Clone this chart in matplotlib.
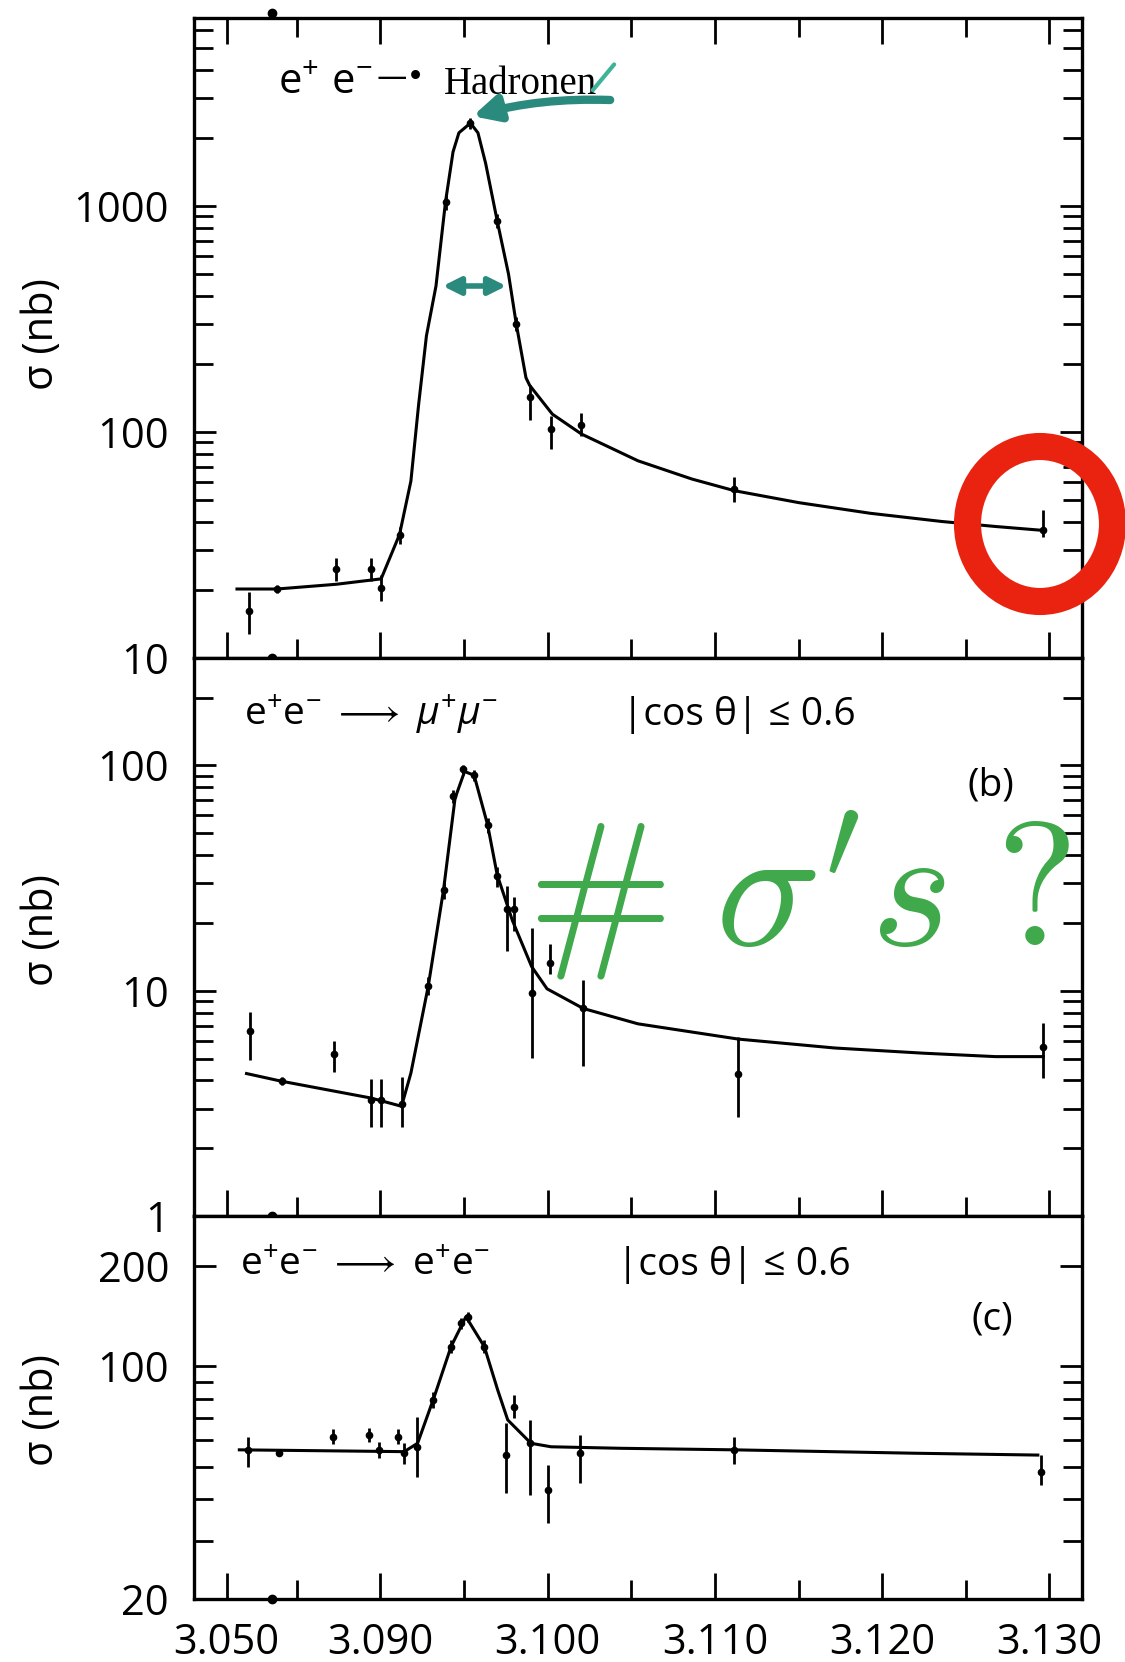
import matplotlib
matplotlib.use('Agg')
import matplotlib.pyplot as plt
from matplotlib.patches import Ellipse, Rectangle
from matplotlib.ticker import FixedLocator, NullFormatter

plt.rcParams['font.family'] = ['Open Sans', 'DejaVu Sans']
plt.rcParams['mathtext.fontset'] = 'custom'
plt.rcParams['mathtext.rm'] = 'Open Sans'
plt.rcParams['mathtext.it'] = 'Open Sans:italic'
plt.rcParams['mathtext.bf'] = 'Open Sans:bold'

# Energy axis (GeV). The first label sits on a broken part of the axis.
x_ticks = [3.0808, 3.090, 3.100, 3.110, 3.120, 3.130]
x_tick_labels = ['3.050', '3.090', '3.100', '3.110', '3.120', '3.130']
x_minor_ticks = [3.085, 3.095, 3.105, 3.115, 3.125]
break_dot_x = 3.0835

# (a) e+e- -> hadrons
had_fit_x = [3.08142, 3.08381, 3.08736, 3.09004, 3.09114, 3.09182, 3.09228, 3.09275,
             3.09332, 3.09389, 3.09434, 3.09469, 3.09538, 3.09583, 3.09629, 3.09698,
             3.09766, 3.09812, 3.09870, 3.09892, 3.10028, 3.10202, 3.10540, 3.10861,
             3.11117, 3.11502, 3.11929, 3.12356, 3.12677, 3.12944]
had_fit_y = [20.2, 20.2, 21.2, 22.4, 35.2, 60.7, 132, 267,
             443, 1045, 1738, 2110, 2330, 2110, 1545, 861,
             499, 301, 174, 161, 120, 98, 74.6, 62.0,
             55.0, 48.7, 43.7, 40.2, 38.2, 36.8]
had_x = [3.08213, 3.08381, 3.08736, 3.08943, 3.09004, 3.09114, 3.09389, 3.09538,
         3.09698, 3.09812, 3.09892, 3.10018, 3.10202, 3.11117, 3.12962]
had_y = [16.1, 20.2, 24.8, 24.8, 20.4, 35.2, 1045, 2330, 861, 301, 143, 103, 108, 56, 37]
had_lo = [12.8, 19.4, 22.0, 22.0, 17.8, 32, 960, 2200, 800, 280, 113, 84, 96, 49, 34.3]
had_hi = [19.6, 21.0, 27.8, 27.8, 23.3, 38, 1130, 2460, 920, 322, 161, 118, 121, 63, 45.2]

# (b) e+e- -> mu+mu-
mu_fit_x = [3.08199, 3.08405, 3.08943, 3.09126, 3.09182, 3.09286, 3.09377, 3.09446,
            3.09503, 3.09560, 3.09641, 3.09698, 3.09789, 3.09904, 3.09996, 3.10213,
            3.10540, 3.11140, 3.11716, 3.12250, 3.12677, 3.12962]
mu_fit_y = [4.29, 3.97, 3.34, 3.07, 4.31, 10.5, 28.0, 71.5,
            94.0, 90.5, 54.4, 32.7, 20.5, 12.8, 10.2, 8.34,
            7.13, 6.10, 5.57, 5.28, 5.10, 5.10]
mu_x = [3.08221, 3.08409, 3.08725, 3.08943, 3.09003, 3.09126, 3.09286, 3.09377, 3.09434,
        3.09492, 3.09559, 3.09641, 3.09697, 3.09755, 3.09801, 3.09908, 3.10011, 3.10213,
        3.11140, 3.12962]
mu_y = [6.61, 3.97, 5.23, 3.27, 3.27, 3.14, 10.5, 28.0, 72.9,
        96, 90.3, 54.4, 32.2, 23.0, 23.0, 9.75, 13.3, 8.34,
        4.29, 5.65]
mu_lo = [4.92, 3.8, 4.38, 2.48, 2.48, 2.48, 9.6, 25.5, 68,
         91, 85, 50, 29, 15.0, 18.5, 5.02, 11.9, 4.64,
         2.74, 4.08]
mu_hi = [8.03, 4.15, 5.98, 4.05, 4.05, 4.13, 11.5, 30.5, 78,
         101, 95, 58.5, 35.5, 29.1, 26.0, 18.9, 16.2, 11.2,
         6.22, 7.20]

# (c) e+e- -> e+e-
ee_fit_x = [3.08156, 3.09142, 3.09222, 3.09322, 3.09422, 3.09511, 3.09621, 3.09701,
            3.09761, 3.09900, 3.10020, 3.10438, 3.11116, 3.12191, 3.12931]
ee_fit_y = [56.2, 55.5, 58.8, 81.2, 114.7, 141.1, 114.7, 85.0,
            69.1, 58.8, 57.4, 56.8, 56.2, 54.9, 54.2]
ee_x = [3.08206, 3.08395, 3.08714, 3.08933, 3.08993, 3.09103, 3.09142, 3.09217, 3.09312,
        3.09422, 3.09481, 3.09522, 3.09621, 3.09751, 3.09800, 3.09894, 3.10004, 3.10195,
        3.11116, 3.12950]
ee_y = [56.2, 54.9, 61.6, 62.3, 56.2, 61.6, 54.9, 57.4, 79.4,
        114.7, 134.9, 141.1, 114.7, 54.2, 75.8, 58.8, 42.6, 54.9,
        56.2, 48.3]
ee_lo = [50.0, 53.9, 58.5, 59.2, 53.2, 58.5, 51, 46.7, 75,
         110, 130, 136, 110, 41.6, 70, 41.1, 33.8, 44.6,
         51, 44.1]
ee_hi = [61.6, 55.9, 64.7, 65.4, 59.2, 64.7, 59, 70.7, 84,
         120, 140, 146, 120, 67.5, 82, 69.1, 50.6, 62.3,
         61.5, 54.2]

# FWHM marker on the hadron peak
fwhm_x = [3.09356, 3.09769]
fwhm_y = 443


def style_panel(ax, ylim, major, major_labels, minor, top_ticks=False, show_x=False):
    ax.set_yscale('log')
    ax.set_xlim(3.07885, 3.13195)
    ax.set_ylim(ylim)
    ax.yaxis.set_major_locator(FixedLocator(major))
    ax.set_yticklabels(major_labels)
    ax.yaxis.set_minor_locator(FixedLocator(minor))
    ax.yaxis.set_minor_formatter(NullFormatter())
    ax.set_xticks(x_ticks)
    ax.set_xticks(x_minor_ticks, minor=True)
    if show_x:
        ax.set_xticklabels(x_tick_labels)
    else:
        ax.set_xticklabels([])
    ax.tick_params(which='both', direction='in', top=top_ticks, right=True,
                   width=2, labelsize=30, colors='black')
    ax.tick_params(axis='x', which='major', length=19, pad=16)
    ax.tick_params(axis='x', which='minor', length=14)
    ax.tick_params(axis='y', which='major', length=16, pad=18)
    ax.tick_params(axis='y', which='minor', length=14)
    for sp in ax.spines.values():
        sp.set_linewidth(2.4)
    # dots on the axis break
    ax.plot([break_dot_x], [0], 'o', color='black', ms=6,
            transform=ax.get_xaxis_transform(), clip_on=False)


def draw_data(ax, fit_x, fit_y, x, y, lo, hi):
    ax.plot(fit_x, fit_y, color='black', lw=2.2)
    yerr = [[v - l for v, l in zip(y, lo)], [h - v for v, h in zip(y, hi)]]
    ax.errorbar(x, y, yerr=yerr, fmt='o', ms=4.5, color='black',
                ecolor='black', elinewidth=2, capsize=0)


fig = plt.figure(figsize=(11.25, 16.62), dpi=100)
left, width = 194 / 1125, 888 / 1125
ax_a = fig.add_axes([left, 0.60409, width, 0.38508])
ax_b = fig.add_axes([left, 0.26835, width, 0.33574])
ax_c = fig.add_axes([left, 0.03773, width, 0.23063])

style_panel(ax_a, (10, 6800), [10, 100, 1000], ['10', '100', '1000'],
            [20, 30, 40, 50, 60, 70, 80, 90, 200, 300, 400, 500, 600, 700, 800, 900,
             2000, 3000, 4000, 5000, 6000], top_ticks=True)
style_panel(ax_b, (1, 300), [1, 10, 100], ['1', '10', '100'],
            [2, 3, 4, 5, 6, 7, 8, 9, 20, 30, 40, 50, 60, 70, 80, 90, 200])
style_panel(ax_c, (20, 283), [20, 100, 200], ['20', '100', '200'],
            [30, 40, 50, 60, 70, 80, 90], show_x=True)
ax_a.plot([break_dot_x], [1.008], 'o', color='black', ms=6,
          transform=ax_a.get_xaxis_transform(), clip_on=False)

draw_data(ax_a, had_fit_x, had_fit_y, had_x, had_y, had_lo, had_hi)
draw_data(ax_b, mu_fit_x, mu_fit_y, mu_x, mu_y, mu_lo, mu_hi)
draw_data(ax_c, ee_fit_x, ee_fit_y, ee_x, ee_y, ee_lo, ee_hi)

# panel labels
ax_a.text(0.0946, 0.881, r'$\mathrm{e}^{+}\ \mathrm{e}^{-}$', transform=ax_a.transAxes,
          fontsize=30, va='baseline')
ax_a.text(0.206, 0.893, u'\u2014\u2022', transform=ax_a.transAxes, fontsize=22,
          va='baseline', family=['DejaVu Sans'])
ax_a.text(0.2815, 0.881, 'Hadronen', transform=ax_a.transAxes, fontsize=28,
          va='baseline', family=['Liberation Serif'])

ax_b.text(0.0559, 0.880, r'$\mathrm{e}^{+}\mathrm{e}^{-}$ $\longrightarrow$ $\mu^{+}\mu^{-}$',
          transform=ax_b.transAxes, fontsize=28, va='baseline')
ax_b.text(0.4815, 0.880, u'|cos \u03b8| \u2264 0.6', transform=ax_b.transAxes,
          fontsize=28, va='baseline')
ax_b.text(0.8975, 0.772, '(b)', transform=ax_b.transAxes, fontsize=28,
          ha='center', va='center')

ax_c.text(0.0518, 0.846, r'$\mathrm{e}^{+}\mathrm{e}^{-}$ $\longrightarrow$ $\mathrm{e}^{+}\mathrm{e}^{-}$',
          transform=ax_c.transAxes, fontsize=28, va='baseline')
ax_c.text(0.476, 0.846, u'|cos \u03b8| \u2264 0.6', transform=ax_c.transAxes,
          fontsize=28, va='baseline')
ax_c.text(0.8986, 0.731, '(c)', transform=ax_c.transAxes, fontsize=28,
          ha='center', va='center')

for yc in [334, 930, 1410]:
    fig.text(42 / 1125, 1 - yc / 1662, u'\u03c3 (nb)', rotation=90, fontsize=30,
             ha='center', va='center')

# hand-drawn annotations
teal = '#2a8a7e'
fig.add_artist(Rectangle((465 / 1125, 1 - 121 / 1662), 150 / 1125, 66 / 1662,
                         transform=fig.transFigure, color='#e9f7f5', zorder=0))
ax_a.annotate('', xy=(3.09535, 2480), xytext=(3.1039, 2945),
              arrowprops=dict(arrowstyle='-|>', color=teal, lw=6, mutation_scale=38,
                              connectionstyle='arc3,rad=0.08'))
ax_a.annotate('', xy=(3.10408, 4330), xytext=(3.10259, 3190),
              arrowprops=dict(arrowstyle='-', color='#3fb39a', lw=3))
ax_a.annotate('', xy=(fwhm_x[0], fwhm_y), xytext=(fwhm_x[1], fwhm_y),
              arrowprops=dict(arrowstyle='<|-|>', color=teal, lw=4, mutation_scale=26))

fig.text(527 / 1125, 1 - 945 / 1662, r'$\#\;\sigma^{\prime}s\;?$', math_fontfamily='cm',
         fontsize=126, color='#3fa94b', ha='left', va='baseline')

fig.add_artist(Ellipse((1040 / 1125, 1 - 524 / 1662), 145 / 1125, 155 / 1662,
                       transform=fig.transFigure, fill=False, ec='#e9230f', lw=19.5))

fig.savefig('out.png', dpi=100)
